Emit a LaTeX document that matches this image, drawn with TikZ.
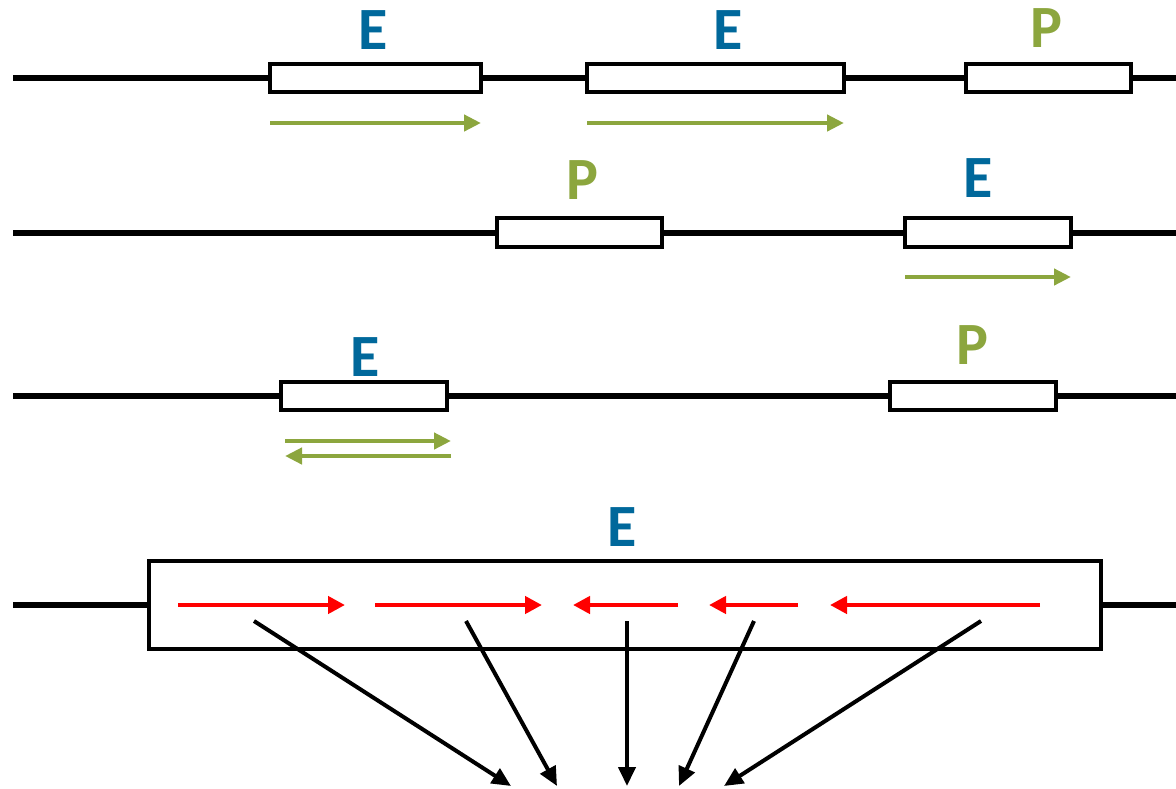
\documentclass[tikz,border=0pt]{standalone}
\usepackage{fontspec}
\setsansfont{Carlito}
\usetikzlibrary{arrows.meta}
\definecolor{eblue}{RGB}{0,104,155}
\definecolor{pgreen}{RGB}{140,166,62}
\tikzset{
  dna/.style={line width=6pt},
  elem/.style={draw, fill=white, line width=4.3pt, inner sep=0pt,
    outer sep=0pt, minimum height=28pt},
  lbl/.style={inner sep=0pt, anchor=base,
    font=\fontsize{60}{60}\selectfont\sffamily\bfseries},
  elbl/.style={lbl, text=eblue},
  plbl/.style={lbl, text=pgreen},
  garrow/.style={line width=4.5pt, pgreen,
    -{Triangle[length=17pt,width=16pt]}},
  rarrow/.style={line width=4.5pt, red,
    -{Triangle[length=17pt,width=17pt]}},
  karrow/.style={line width=4pt, black,
    -{Triangle[length=19pt,width=17pt]}}
}
\begin{document}
\begin{tikzpicture}[x=1pt,y=-1pt]
  \useasboundingbox (0,0) rectangle (1176,788);
  % strands
  \foreach \y in {78,232.5,396,605}
    \draw[dna] (13,\y) -- (1176,\y);
  % first strand
  \node[elem, minimum width=211pt] (b11) at (375.5,78) {};
  \node[elem, minimum width=257pt] (b12) at (715.5,78) {};
  \node[elem, minimum width=165pt] (b13) at (1048.5,78) {};
  \node[elbl] (l11) at (373,49) {E};
  \node[elbl] (l12) at (728,49) {E};
  \node[plbl] (l13) at (1046,47) {P};
  \draw[garrow] ([yshift=-31pt]b11.south west)
    -- ([yshift=-31pt]b11.south east);
  \draw[garrow] ([yshift=-31pt]b12.south west)
    -- ([yshift=-31pt]b12.south east);
  % second strand
  \node[elem, minimum width=165pt, minimum height=29pt]
    (b21) at (579.5,232.5) {};
  \node[elem, minimum width=166pt, minimum height=29pt]
    (b22) at (988,232.5) {};
  \node[plbl] (l21) at (582,199) {P};
  \node[elbl] (l22) at (978,197) {E};
  \draw[garrow] ([yshift=-30pt]b22.south west)
    -- ([yshift=-30pt]b22.south east);
  % third strand
  \node[elem, minimum width=166pt] (b31) at (364,396) {};
  \node[elem, minimum width=166pt] (b32) at (973,396) {};
  \node[elbl] (l31) at (365,376) {E};
  \node[plbl] (l32) at (972,364) {P};
  \draw[garrow] ([xshift=4pt,yshift=-31pt]b31.south west)
    -- ([xshift=4pt,yshift=-31pt]b31.south east);
  \draw[garrow] ([xshift=4pt,yshift=-46pt]b31.south east)
    -- ([xshift=4pt,yshift=-46pt]b31.south west);
  % fourth strand
  \node[elem, minimum width=952pt, minimum height=88pt]
    (b41) at (625,605) {};
  \node[elbl] (l41) at (622,546) {E};
  \foreach \a/\b in {178/345, 375/542, 678/573, 798/709, 1040/830}
    \draw[rarrow] (\a,605) -- (\b,605);
  \foreach \a/\b [count=\k] in {254/511, 466/557, 627/627, 754/679, 981/724}
  {\coordinate (s\k) at (\a,621);
   \coordinate (t\k) at (\b,786);
   \draw[karrow] (s\k) -- (t\k);}
\end{tikzpicture}
\end{document}
